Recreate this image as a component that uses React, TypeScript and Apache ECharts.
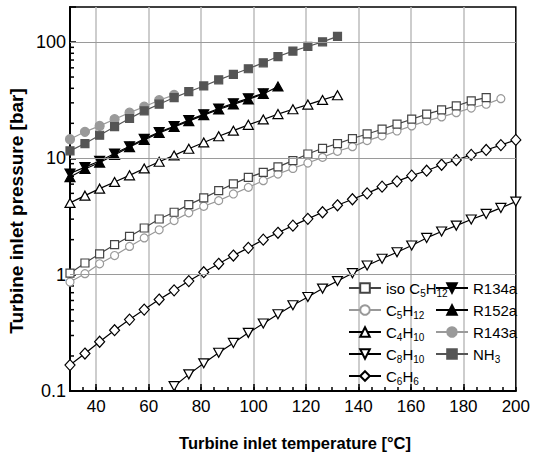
import React, { useEffect, useRef } from 'react';
import * as echarts from 'echarts';

// Temperature grid (°C) shared by all series
const temps = [30, 35.7, 41.3, 47, 52.7, 58.3, 64, 69.7, 75.3, 81, 86.7, 92.3, 98, 103.7, 109.3, 115, 120.7, 126.3, 132, 137.7, 143.3, 149, 154.7, 160.3, 166, 171.7, 177.3, 183, 188.7, 194.3, 200];

// Pressures (bar)
const isoC5H12 = [1.03, 1.26, 1.51, 1.81, 2.13, 2.52, 3.01, 3.44, 4.0, 4.57, 5.27, 6.03, 6.86, 7.57, 8.45, 9.55, 10.9, 12.2, 13.4, 14.8, 16.2, 17.8, 19.7, 21.7, 24.0, 26.1, 28.2, 31.2, 33.3];
const C5H12 = [0.865, 1.02, 1.24, 1.46, 1.75, 2.07, 2.43, 2.92, 3.4, 3.87, 4.33, 4.94, 5.63, 6.43, 7.33, 8.19, 9.12, 10.2, 11.5, 12.6, 14.2, 15.6, 17.2, 19.0, 21.0, 22.7, 24.7, 27.1, 29.2, 32.6];
const C4H10 = [4.14, 4.78, 5.49, 6.27, 7.14, 8.19, 9.35, 10.6, 12.1, 13.7, 15.5, 17.3, 19.4, 21.6, 24.0, 26.4, 29.0, 31.8, 34.9];
const C8H10 = [0.11, 0.139, 0.173, 0.213, 0.259, 0.316, 0.38, 0.457, 0.546, 0.643, 0.759, 0.881, 1.03, 1.2, 1.37, 1.56, 1.78, 2.07, 2.35, 2.64, 2.98, 3.33, 3.75, 4.25];
const C8H10Temps = temps.slice(7);
const C6H6 = [0.167, 0.21, 0.265, 0.333, 0.411, 0.501, 0.611, 0.733, 0.881, 1.05, 1.24, 1.46, 1.7, 2.0, 2.29, 2.64, 3.02, 3.44, 3.95, 4.45, 5.0, 5.71, 6.34, 7.1, 7.83, 8.81, 9.67, 10.7, 11.8, 13.0, 14.4];
const R134a = [7.4, 8.4, 9.5, 11.0, 12.7, 14.7, 16.8, 18.9, 21.3, 23.9, 26.8, 29.7, 32.8, 36.2];
const R152a = [6.9, 8.1, 9.2, 10.7, 12.5, 14.4, 16.5, 18.6, 20.9, 23.5, 26.3, 29.1, 32.1, 35.8, 41.5];
const R143a = [14.6, 16.9, 19.0, 21.7, 24.7, 27.8, 31.6, 35.1];
const NH3 = [11.6, 13.4, 15.8, 18.7, 22.0, 25.6, 29.2, 33.3, 37.4, 41.9, 47.3, 52.8, 58.9, 66.3, 75.0, 83.6, 91.6, 100.4, 111.7];

// Axis ticks
const xMajorTicks = [40, 60, 80, 100, 120, 140, 160, 180];
const xLabels = [40, 60, 80, 100, 120, 140, 160, 180, 200];
const yLabels = [0.1, 1, 10, 100];
const yGridLines = [1, 10, 100];
const yMinorTicks = [0.2, 0.3, 0.4, 0.5, 0.6, 0.7, 0.8, 0.9, 2, 3, 4, 5, 6, 7, 8, 9, 20, 30, 40, 50, 60, 70, 80, 90];

const legendLeft = ['isoC5H12', 'C5H12', 'C4H10', 'C8H10', 'C6H6'];
const legendRight = ['R134a', 'R152a', 'R143a', 'NH3'];
const legendText: Record<string, string> = {
  isoC5H12: 'iso C{s|5}H{s|12}',
  C5H12: 'C{s|5}H{s|12}',
  C4H10: 'C{s|4}H{s|10}',
  C8H10: 'C{s|8}H{s|10}',
  C6H6: 'C{s|6}H{s|6}',
  R134a: 'R134a',
  R152a: 'R152a',
  R143a: 'R143a',
  NH3: 'NH{s|3}',
};

const FONT = '"Liberation Sans", Arial, Helvetica, sans-serif';

function zip(xs: number[], ys: number[]) {
  return ys.map((y, i) => [xs[i], y]);
}

function lineSeries(name: string, xs: number[], ys: number[], symbol: string, size: any, color: string, fill: string, rotate = 0) {
  return {
    type: 'line',
    name,
    data: zip(xs, ys),
    symbol,
    symbolSize: size,
    symbolRotate: rotate,
    showSymbol: true,
    silent: true,
    z: 3,
    lineStyle: { color, width: 1.2 },
    itemStyle: { color: fill, borderColor: color, borderWidth: 1.2 },
    emphasis: { disabled: true },
  };
}

export default function App() {
  const ref = useRef<HTMLDivElement>(null);
  useEffect(() => {
    if (!ref.current) return;
    const chart = echarts.init(ref.current, undefined, { renderer: 'svg' });
    const legendTextStyle = {
      fontFamily: FONT,
      fontSize: 15,
      lineHeight: 20,
      color: '#000',
      rich: { s: { fontFamily: FONT, fontSize: 10, lineHeight: 5, verticalAlign: 'bottom', color: '#000' } },
    };
    const legendCommon = {
      orient: 'vertical',
      top: 278,
      padding: 0,
      itemWidth: 32,
      itemHeight: 12,
      itemGap: 2,
      selectedMode: false,
      formatter: (n: string) => legendText[n],
      textStyle: legendTextStyle,
    };
    chart.setOption({
      animation: false,
      grid: { left: 70, right: 14, top: 7, bottom: 68, show: true, borderColor: '#000', borderWidth: 1.5, backgroundColor: 'transparent' },
      xAxis: [
        {
          type: 'value', min: 30, max: 200, interval: 5, position: 'bottom',
          axisLine: { show: true, onZero: false, lineStyle: { color: '#000', width: 2 } },
          axisTick: { inside: true, length: 4, lineStyle: { color: '#000', width: 1.5 } },
          axisLabel: { show: false },
          splitLine: { show: false },
        },
        {
          type: 'value', min: 30, max: 200, position: 'bottom',
          axisLine: { show: false },
          axisTick: { inside: true, length: 7, customValues: xMajorTicks, lineStyle: { color: '#000', width: 1.5 } },
          axisLabel: { customValues: xLabels, fontSize: 17, color: '#000', fontFamily: FONT, margin: 7 },
          splitLine: { show: true, lineStyle: { color: '#bdbdbd', width: 1.5 } },
        },
      ],
      yAxis: {
        type: 'log', logBase: 10, min: 0.1, max: 200,
        axisLine: { show: true, onZero: false, lineStyle: { color: '#000', width: 2 } },
        axisTick: { inside: true, length: 6, lineStyle: { color: '#000', width: 1.5 } },
        axisLabel: {
          fontSize: 18, color: '#000', fontFamily: FONT, margin: 4,
          formatter: (v: number) => (yLabels.some((t) => Math.abs(t - v) < 1e-9) ? String(v) : ''),
        },
        splitLine: { show: false },
      },
      legend: [
        { ...legendCommon, left: 348, data: legendLeft },
        { ...legendCommon, left: 435, data: legendRight },
      ],
      graphic: [
        {
          type: 'text', x: 295, y: 443,
          style: { text: 'Turbine inlet temperature [°C]', fontFamily: FONT, fontWeight: 'bold', fontSize: 16.5, fill: '#000', textAlign: 'center', textVerticalAlign: 'middle' },
        },
        {
          type: 'text', x: 16.5, y: 211, rotation: Math.PI / 2,
          style: { text: 'Turbine inlet pressure [bar]', fontFamily: FONT, fontWeight: 'bold', fontSize: 19, fill: '#000', textAlign: 'center', textVerticalAlign: 'middle' },
        },
      ],
      series: [
        {
          type: 'custom',
          name: 'minorTicks',
          silent: true,
          z: 1,
          clip: false,
          data: yMinorTicks.map((v) => [30, v]),
          renderItem: (params: any, api: any) => {
            const p = api.coord([api.value(0), api.value(1)]);
            return { type: 'line', shape: { x1: p[0], y1: p[1], x2: p[0] + 4, y2: p[1] }, style: { stroke: '#000', lineWidth: 1.5 } };
          },
          markLine: {
            silent: true,
            symbol: 'none',
            label: { show: false },
            lineStyle: { color: '#9a9a9a', width: 1.2, type: 'solid' },
            data: yGridLines.map((v) => ({ yAxis: v })),
          },
        },
        lineSeries('C6H6', temps, C6H6, 'diamond', [10, 11], '#000', '#fff'),
        lineSeries('C8H10', C8H10Temps, C8H10, 'triangle', [10, 9], '#000', '#fff', 180),
        lineSeries('C5H12', temps, C5H12, 'circle', 8, '#999', '#fff'),
        lineSeries('isoC5H12', temps, isoC5H12, 'rect', 8, '#444', '#fff'),
        lineSeries('C4H10', temps, C4H10, 'triangle', [10, 9], '#000', '#fff'),
        lineSeries('R152a', temps, R152a, 'triangle', [10, 9], '#000', '#000'),
        lineSeries('R134a', temps, R134a, 'triangle', [10, 9], '#000', '#000', 180),
        lineSeries('R143a', temps, R143a, 'circle', 9, '#9a9a9a', '#9a9a9a'),
        lineSeries('NH3', temps, NH3, 'rect', 8, '#555', '#555'),
      ],
    });
    return () => chart.dispose();
  }, []);
  return <div ref={ref} style={{ position: 'absolute', left: 0, top: 0, width: 533, height: 459, background: '#fff' }} />;
}
